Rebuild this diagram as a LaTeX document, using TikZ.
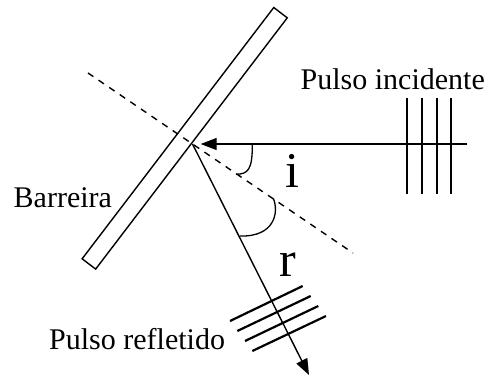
\documentclass[tikz,border=0pt]{standalone}
\usepackage{fontspec}
\setmainfont{Liberation Serif}
\usetikzlibrary{arrows.meta}
\begin{document}
\begin{tikzpicture}[x=1pt,y=-1pt,
  ray/.style={line width=1.4pt},
  anglearc/.style={line width=1.3pt},
  pulse/.style={line width=2.2pt},
  normalline/.style={line width=1.4pt, dash pattern=on 6.5pt off 6.3pt},
  lbl/.style={inner sep=0pt, font=\fontsize{30}{36}\selectfont},
  anglbl/.style={inner sep=0pt, font=\fontsize{50}{60}\selectfont},
  tiparrow/.style={-{Triangle[length=16pt,width=12pt]}}]
\useasboundingbox (0,0) rectangle (492,376);
% barrier
\node[draw, line width=1.4pt, minimum width=316pt, minimum height=17pt,
      inner sep=0pt, rotate=52.67] (barrier) at (184.7,138.3) {};
% points
\coordinate (P) at (192.5,144);
\coordinate (inStart) at (467,144);
\coordinate (inTip) at (200.7,144);
\coordinate (refTip) at (309,375);
\coordinate (nA) at (88,73);
\coordinate (nB) at (353,253);
% normal
\draw[normalline] (nA) -- (nB);
% rays
\draw[ray,tiparrow] (inStart) -- (inTip);
\draw[ray,tiparrow] (P) -- (refTip);
% incident pulse
\foreach \x in {407.3,422,437,451.3} \draw[pulse] (\x,98) -- (\x,194);
% reflected pulse
\draw[pulse] (230,321) -- (302.7,286);
\draw[pulse] (237.3,331) -- (310.7,296);
\draw[pulse] (245,341) -- (318.3,306);
\draw[pulse] (252.3,351) -- (326,316);
% angle arcs
\draw[anglearc] (252.3,144) .. controls (252.5,170) and (248,174) .. (236,174.3);
\draw[anglearc] (273.3,198.3) .. controls (279,212) and (275,237) .. (240,236);
% labels
\node[lbl, anchor=base west] (tInc) at (300.5,89.3) {Pulso incidente};
\node[lbl, anchor=base west] (tRef) at (49,349) {Pulso refletido};
\node[lbl, anchor=base west] (tBar) at (13.5,207.3) {Barreira};
\node[anglbl, anchor=base] (ti) at (292.5,187.3) {i};
\node[anglbl, anchor=base] (tr) at (287.5,276.7) {r};
\end{tikzpicture}
\end{document}
